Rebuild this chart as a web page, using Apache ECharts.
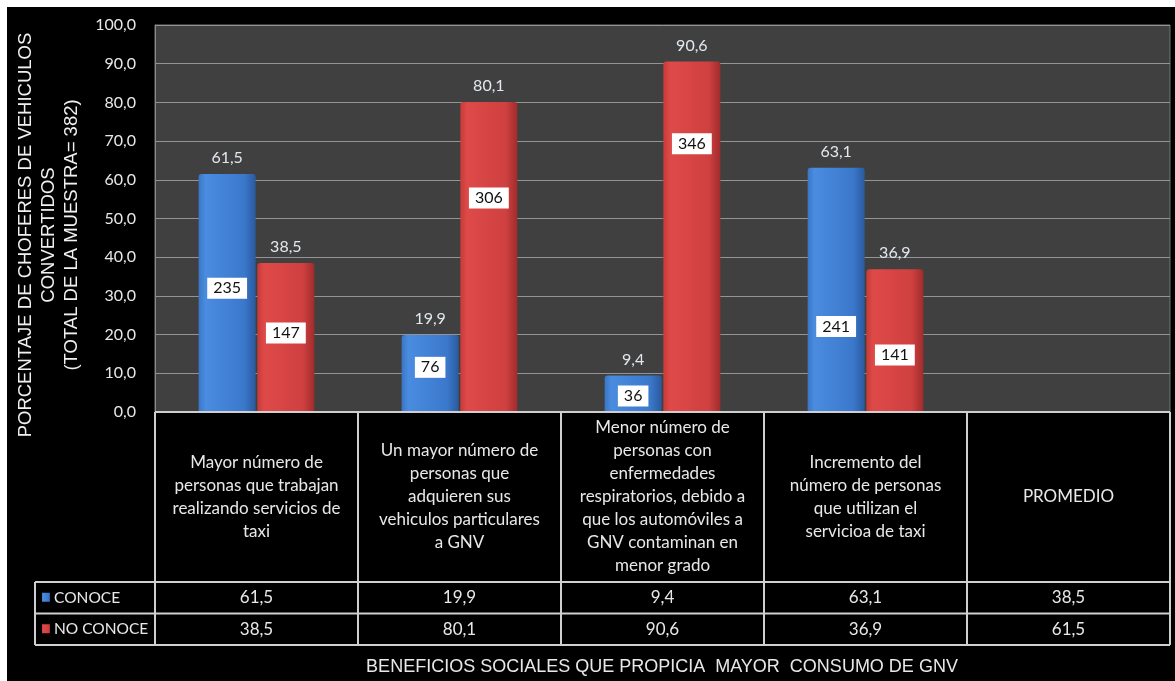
<!DOCTYPE html>
<html><head><meta charset="utf-8">
<script src="https://cdn.jsdelivr.net/npm/echarts/dist/echarts.min.js"></script>
<style>
html,body{margin:0;padding:0;background:#fff;width:1175px;height:681px;overflow:hidden}
#bg{position:absolute;left:7px;top:7px;width:1168px;height:674px;background:#000}
#c{position:absolute;left:0;top:0;width:1175px;height:681px}
</style></head><body><div id="bg"></div><div id="c"></div>
<script>
// ---- data ----
const categories = [
  'Mayor número de\npersonas que trabajan\nrealizando servicios de\ntaxi',
  'Un mayor número de\npersonas que\nadquieren sus\nvehiculos particulares\na GNV',
  'Menor número de\npersonas con\nenfermedades\nrespiratorios, debido a\nque los automóviles a\nGNV contaminan en\nmenor grado',
  'Incremento del\nnúmero de personas\nque utilizan el\nservicioa de taxi',
  'PROMEDIO'
];
const seriesNames = ['CONOCE', 'NO CONOCE'];
const conoce   = [61.5, 19.9, 9.4, 63.1, 38.5];
const noConoce = [38.5, 80.1, 90.6, 36.9, 61.5];
const conoceCount   = [235, 76, 36, 241, null];
const noConoceCount = [147, 306, 346, 141, null];
const yMin = 0, yMax = 100, yStep = 10;
const yTitle = 'PORCENTAJE DE CHOFERES DE VEHICULOS\nCONVERTIDOS\n(TOTAL DE LA MUESTRA= 382)';
const xTitle = 'BENEFICIOS SOCIALES QUE PROPICIA  MAYOR  CONSUMO DE GNV';
const barCategoryExcluded = 'PROMEDIO';

// ---- styles ----
const countPosConoce   = ['48%', '42%', '56%', '65%'];
const countPosNoConoce = ['47%', '31%', '23.5%', '60%'];
const fmt = v => v.toFixed(1).replace('.', ',');
const G = echarts.graphic;
const blueGrad = () => new G.LinearGradient(0, 0, 1, 0, [
  {offset: 0, color: '#3a76c6'}, {offset: 0.12, color: '#4a8ce0'},
  {offset: 0.8, color: '#3b78cb'}, {offset: 1, color: '#2a5a9e'}]);
const redGrad = () => new G.LinearGradient(0, 0, 1, 0, [
  {offset: 0, color: '#c83a3a'}, {offset: 0.12, color: '#de4a48'},
  {offset: 0.8, color: '#cf4040'}, {offset: 1, color: '#a02c2c'}]);
const TXT = '#e8e8e8';
const FONT = 'Lato, "Open Sans", sans-serif';
const ARIAL = '"Liberation Sans", Arial, sans-serif';

const barData = arr => arr.map((v, i) => categories[i] === barCategoryExcluded ? '-' : v);
const countData = (arr, cnt, pos) => arr.map((v, i) => categories[i] === barCategoryExcluded ? '-' : {
  value: v, count: cnt[i],
  label: {position: ['50%', pos[i]]}
});

const chart = echarts.init(document.getElementById('c'), null, {renderer: 'canvas'});
const BAR_W = 57, BAR_GAP = '3%';
const countLabel = {
  show: true, align: 'center', verticalAlign: 'middle',
  formatter: p => p.data.count, color: '#111', backgroundColor: '#fff',
  padding: [3, 6, 2, 6], fontSize: 16, fontFamily: FONT
};
chart.setOption({
  backgroundColor: 'transparent',
  animation: false,
  grid: {left: 155, right: 5, top: 25, bottom: 269, show: true,
         backgroundColor: '#404040', borderColor: '#777', borderWidth: 1},
  xAxis: [
    {type: 'category', data: categories, axisLine: {show: false}, axisTick: {show: false}, axisLabel: {show: false}},
    {type: 'category', data: categories, show: false}
  ],
  yAxis: {
    type: 'value', min: yMin, max: yMax, interval: yStep,
    axisLine: {show: true, lineStyle: {color: '#8a8a8a'}},
    axisTick: {show: false},
    splitLine: {lineStyle: {color: '#949494', width: 1}},
    axisLabel: {formatter: fmt, color: TXT, fontSize: 16, fontFamily: FONT, margin: 19}
  },
  series: [
    {name: seriesNames[0], type: 'bar', xAxisIndex: 0, data: barData(conoce), barWidth: BAR_W, barGap: BAR_GAP,
     itemStyle: {color: blueGrad(), borderRadius: [3, 3, 0, 0]},
     label: {show: true, position: 'top', distance: 8, formatter: p => fmt(p.value), color: '#e2e8ee', fontSize: 16, fontFamily: FONT}},
    {name: seriesNames[1], type: 'bar', xAxisIndex: 0, data: barData(noConoce), barWidth: BAR_W, barGap: BAR_GAP,
     itemStyle: {color: redGrad(), borderRadius: [3, 3, 0, 0]},
     label: {show: true, position: 'top', distance: 8, formatter: p => fmt(p.value), color: '#e2e8ee', fontSize: 16, fontFamily: FONT}},
    {type: 'bar', xAxisIndex: 1, data: countData(conoce, conoceCount, countPosConoce), barWidth: BAR_W, barGap: BAR_GAP,
     itemStyle: {color: 'rgba(0,0,0,0)'}, label: countLabel, silent: true},
    {type: 'bar', xAxisIndex: 1, data: countData(noConoce, noConoceCount, countPosNoConoce), barWidth: BAR_W, barGap: BAR_GAP,
     itemStyle: {color: 'rgba(0,0,0,0)'}, label: countLabel, silent: true}
  ]
});

// ---- data table and titles ----
const cx = categories.map(c => chart.convertToPixel({xAxisIndex: 0}, c));
const band = cx[1] - cx[0];
const y0 = chart.convertToPixel({yAxisIndex: 0}, yMin);
const leftX = cx[0] - band / 2, rightX = cx[cx.length - 1] + band / 2;
const legX = 35;
const hdrB = y0 + 170, r1B = hdrB + 31.5, r2B = r1B + 31.5;
const LINE = {stroke: '#cfcfcf', lineWidth: 2};
const els = [];
const ln = (x1, y1, x2, y2) => els.push({type: 'line', shape: {x1, y1, x2, y2}, style: LINE, z: 10});
ln(leftX, y0, rightX, y0);
ln(legX, hdrB, rightX, hdrB);
ln(legX, r1B, rightX, r1B);
ln(legX, r2B, rightX, r2B);
ln(legX, hdrB, legX, r2B);
for (let i = 0; i <= categories.length; i++) {
  const x = leftX + i * band;
  ln(x, y0, x, r2B);
}
const txt = (x, y, text, extra) => els.push({type: 'text', x, y, z: 11, style: Object.assign({
  text, fill: TXT, font: '17px ' + FONT, textAlign: 'center', textVerticalAlign: 'middle',
  align: 'center', verticalAlign: 'middle', lineHeight: 23}, extra || {})});
categories.forEach((c, i) => {
  txt(cx[i], (y0 + hdrB) / 2, c);
  txt(cx[i], (hdrB + r1B) / 2, fmt(conoce[i]));
  txt(cx[i], (r1B + r2B) / 2, fmt(noConoce[i]));
});
[[blueGrad(), (hdrB + r1B) / 2, seriesNames[0]], [redGrad(), (r1B + r2B) / 2, seriesNames[1]]].forEach(([fill, yc, name]) => {
  els.push({type: 'rect', shape: {x: legX + 7, y: yc - 5, width: 8, height: 9}, style: {fill}, z: 11});
  txt(legX + 19, yc, name, {textAlign: 'left', align: 'left', font: '15.5px ' + FONT});
});
txt(662, 667, xTitle, {font: '18px ' + ARIAL});
els.push({type: 'text', x: 49, y: 235, rotation: Math.PI / 2, z: 11, style: {
  text: yTitle, fill: '#f0f0f0', font: '18.5px ' + ARIAL,
  textAlign: 'center', textVerticalAlign: 'middle', align: 'center', verticalAlign: 'middle', lineHeight: 23}});
chart.setOption({graphic: {elements: els}});
</script></body></html>
